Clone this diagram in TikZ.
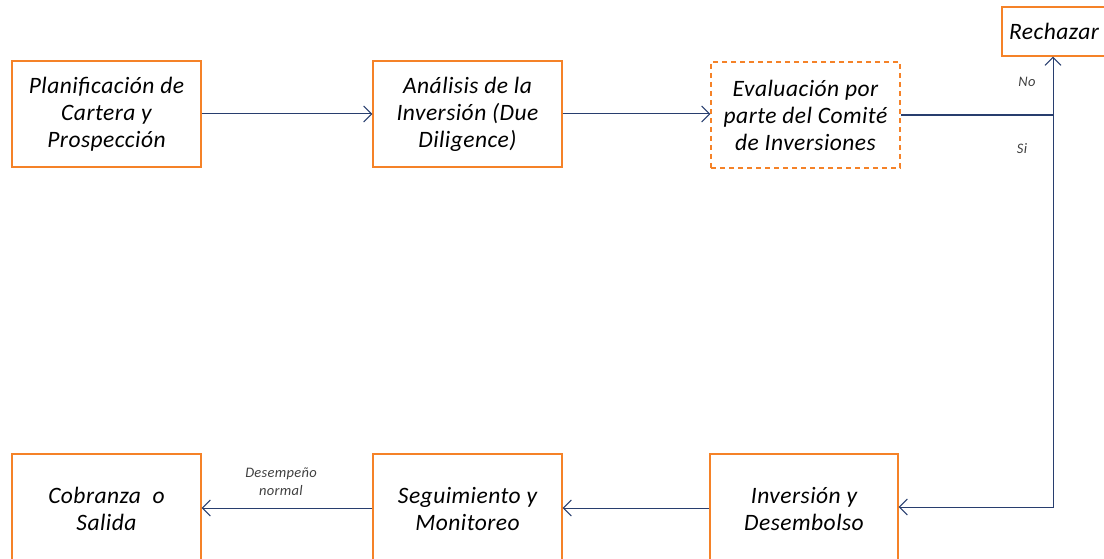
\documentclass[tikz,border=0pt]{standalone}
\usepackage{fontspec}
\setmainfont{Carlito}[LetterSpace=2]
\usetikzlibrary{arrows.meta}
\definecolor{boxorange}{RGB}{245,130,40}
\definecolor{lineblue}{RGB}{40,62,110}
\definecolor{lblgrey}{RGB}{64,64,64}
\tikzset{
  box/.style={draw=boxorange, line width=1.3pt, minimum width=189pt, minimum height=106pt,
    align=center, font=\fontsize{23.5}{27}\selectfont\itshape, inner sep=0pt},
  dbox/.style={box, dashed, dash pattern=on 5pt off 4pt},
  conn/.style={draw=lineblue, line width=1pt, -{Straight Barb[length=8pt,width=16pt,line width=1pt]}},
  lbl/.style={font=\fontsize{14.5}{18}\selectfont\itshape, text=lblgrey, align=center}
}
\begin{document}
\begin{tikzpicture}[x=1pt,y=1pt]
\useasboundingbox (0,0) rectangle (1104,-559);
\node[box] (plan) at (106.5,-114) {Planificación de\\Cartera y\\Prospección};
\node[box] (anal) at (467.5,-114) {Análisis de la\\Inversión (Due\\Diligence)};
\node[dbox] (eval) at (805.5,-115) {Evaluación por\\parte del Comité\\de Inversiones};
\node[box, minimum width=108pt, minimum height=49pt] (rech) at (1056,-31.5) {\hspace*{-4pt}Rechazar};
\node[box, minimum height=110pt] (cobr) at (106.5,-509) {Cobranza \ o\\Salida};
\node[box, minimum height=110pt] (segu) at (467.5,-509) {Seguimiento y\\Monitoreo};
\node[box, minimum width=188pt, minimum height=110pt] (inve) at (804,-509) {Inversión y\\Desembolso};
\coordinate (corner) at (1053,-115);
\coordinate (low) at (1053,-507);
\draw[conn] (plan.east |- 0,-114) -- (anal.west |- 0,-114);
\draw[conn] (anal.east |- 0,-114) -- (eval.west |- 0,-114);
\draw[draw=lineblue, line width=2pt] (eval.east |- corner) -- (corner);
\draw[conn] (corner) -- (rech.south -| corner);
\draw[conn] (corner) -- (low) -- (inve.east |- low);
\draw[conn] (inve.west |- 0,-508) -- (segu.east |- 0,-508);
\draw[conn] (segu.west |- 0,-508) -- (cobr.east |- 0,-508);
\node[lbl] (no) at (1027,-82) {No};
\node[lbl] (si) at (1022,-149) {Si};
\node[lbl] (des) at (281,-482) {Desempeño\\normal};
\end{tikzpicture}
\end{document}
